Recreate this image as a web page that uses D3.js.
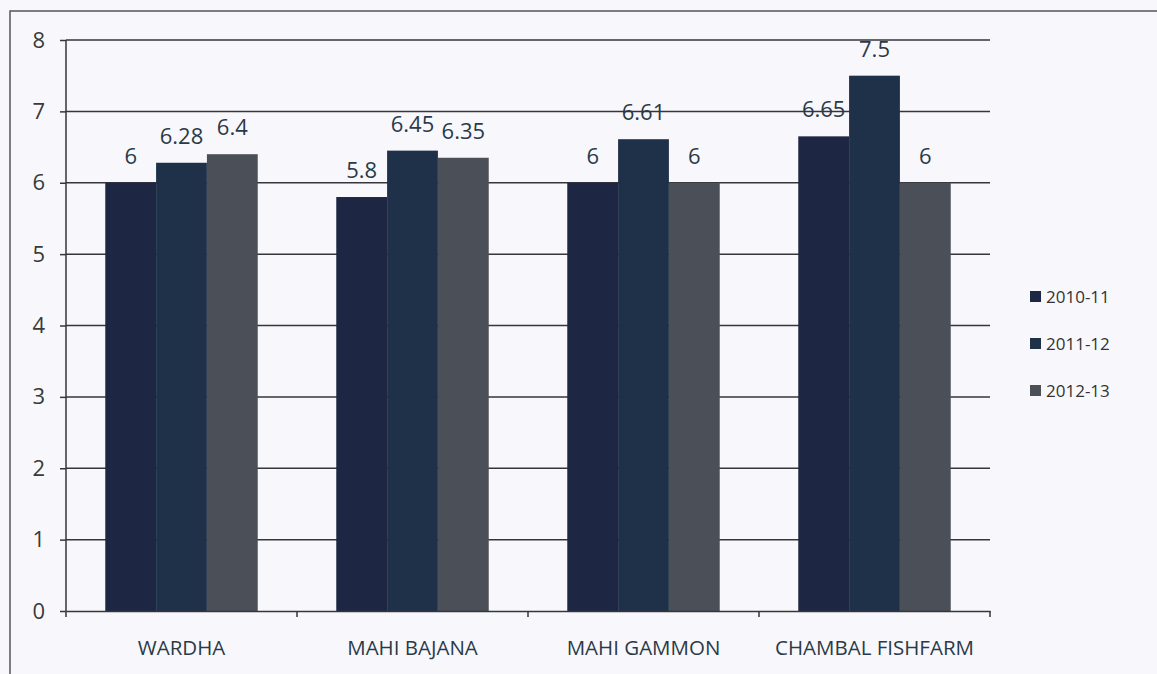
<!DOCTYPE html>
<html>
<head>
<meta charset="utf-8">
<script src="https://cdn.jsdelivr.net/npm/d3@7"></script>
<style>
  html, body { margin: 0; padding: 0; background: #f8f8fc; }
  svg { display: block; }
  text { font-family: "Open Sans", "Noto Sans", sans-serif; }
</style>
</head>
<body>
<script>
// Farm sites and yearly values
const categories = ["WARDHA", "MAHI BAJANA", "MAHI GAMMON", "CHAMBAL FISHFARM"];
const seriesNames = ["2010-11", "2011-12", "2012-13"];
const values2010 = [6, 5.8, 6, 6.65];
const values2011 = [6.28, 6.45, 6.61, 7.5];
const values2012 = [6.4, 6.35, 6, 6];
const yTicks = [0, 1, 2, 3, 4, 5, 6, 7, 8];

const seriesValues = [values2010, values2011, values2012];
const colors = ["#1d2743", "#1f3148", "#4b4f58"];
const FONT = "\"Open Sans\", \"Noto Sans\", sans-serif";

const W = 1157, H = 674;
const plot = { left: 66, right: 990, top: 40, bottom: 611 };

const svg = d3.select("body").append("svg").attr("width", W).attr("height", H);

// outer frame
svg.append("rect").attr("x", 10).attr("y", 11).attr("width", W + 20).attr("height", H + 20)
  .attr("fill", "none").attr("stroke", "#555").attr("stroke-width", 1.5);

const x0 = d3.scaleBand().domain(categories).range([plot.left, plot.right]).paddingInner(0).paddingOuter(0);
const groupPad = 0.17;
const x1 = d3.scaleBand().domain(seriesNames)
  .range([x0.bandwidth() * groupPad, x0.bandwidth() * (1 - groupPad)]).padding(0);
const y = d3.scaleLinear().domain([0, 8]).range([plot.bottom, plot.top]);

// horizontal gridlines
svg.append("g").selectAll("line").data(yTicks.filter(d => d > 0)).join("line")
  .attr("x1", plot.left).attr("x2", plot.right)
  .attr("y1", d => y(d)).attr("y2", d => y(d))
  .attr("stroke", "#35353b").attr("stroke-width", 1.5);

// bars with value labels
const rows = categories.map((c, i) => ({ c, vals: seriesNames.map((s, j) => ({ s, j, v: seriesValues[j][i] })) }));
const groups = svg.append("g").selectAll("g").data(rows).join("g")
  .attr("transform", d => `translate(${x0(d.c)},0)`);
groups.selectAll("rect").data(d => d.vals).join("rect")
  .attr("x", d => x1(d.s)).attr("width", x1.bandwidth())
  .attr("y", d => y(d.v)).attr("height", d => y(0) - y(d.v))
  .attr("fill", d => colors[d.j]);
groups.selectAll("text").data(d => d.vals).join("text")
  .attr("x", d => x1(d.s) + x1.bandwidth() / 2)
  .attr("y", d => y(d.v) - 19)
  .attr("text-anchor", "middle")
  .attr("font-size", 22).attr("fill", "#2b3a48")
  .text(d => d.v);

// y axis
const yAxis = d3.axisLeft(y).tickValues(yTicks).tickSize(6).tickPadding(15).tickFormat(d3.format("d"));
const gy = svg.append("g").attr("transform", `translate(${plot.left},0)`).call(yAxis);
gy.select(".domain").attr("d", `M0,${plot.top}V${plot.bottom + 6}`).attr("stroke", "#35353b").attr("stroke-width", 1.5);
gy.selectAll(".tick line").attr("stroke", "#35353b").attr("stroke-width", 1.5);
gy.selectAll(".tick text").attr("font-size", 22).attr("fill", "#3a3a3a").attr("font-family", FONT);

// x axis
const xAxis = d3.axisBottom(x0).tickSize(0).tickPadding(29);
const gx = svg.append("g").attr("transform", `translate(0,${plot.bottom})`).call(xAxis);
gx.select(".domain").attr("stroke", "#35353b").attr("stroke-width", 1.5);
gx.selectAll(".tick text").attr("font-size", 20.5).attr("fill", "#2b3a48").attr("font-family", FONT);
gx.selectAll(".bound").data(categories).join("line").attr("class", "bound")
  .attr("x1", d => x0(d) + x0.bandwidth()).attr("x2", d => x0(d) + x0.bandwidth())
  .attr("y1", 0).attr("y2", 6).attr("stroke", "#35353b").attr("stroke-width", 1.5);

// legend
const legend = svg.append("g").attr("transform", "translate(1030,296)");
const li = legend.selectAll("g").data(seriesNames).join("g")
  .attr("transform", (d, i) => `translate(0,${i * 47})`);
li.append("rect").attr("x", 0).attr("y", -5).attr("width", 11).attr("height", 11)
  .attr("fill", (d, i) => colors[i]);
li.append("text").attr("x", 16).attr("y", 6.5).attr("font-size", 17).attr("fill", "#333")
  .text(d => d);
</script>
</body>
</html>
